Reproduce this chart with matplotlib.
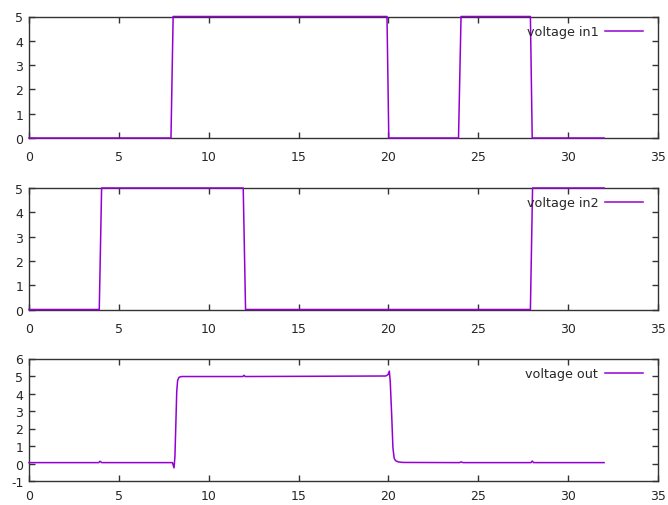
import matplotlib.pyplot as plt

plt.rcParams["axes.unicode_minus"] = False

# time points (s) and voltages
t_in1 = [0, 7.9, 8.02, 19.92, 20.02, 23.9, 24.04, 27.9, 28.0, 32]
v_in1 = [0, 0, 5, 5, 0, 0, 5, 5, 0, 0]

t_in2 = [0, 3.91, 4.04, 11.92, 12.05, 27.9, 28.02, 32]
v_in2 = [0, 0, 5, 5, 0, 0, 5, 5]

t_out = [0, 3.88, 3.95, 4.05, 7.98, 8.07, 8.12, 8.17, 8.22, 8.27, 8.35, 8.5,
         11.9, 11.96, 12.03, 19.85, 19.98, 20.05, 20.1, 20.18, 20.25, 20.32,
         20.4, 20.55, 20.8, 23.95, 24.05, 24.15, 27.93, 28.0, 28.08, 32]
v_out = [0.05, 0.05, 0.13, 0.05, 0.05, -0.25, 0.4, 2.2, 4.1, 4.75, 4.93, 4.97,
         4.97, 5.04, 4.97, 5.0, 5.08, 5.28, 4.7, 2.8, 0.9, 0.3,
         0.16, 0.09, 0.06, 0.05, 0.09, 0.05, 0.05, 0.14, 0.05, 0.05]

series = [
    (t_in1, v_in1, "voltage in1", (0, 5), [0, 1, 2, 3, 4, 5]),
    (t_in2, v_in2, "voltage in2", (0, 5), [0, 1, 2, 3, 4, 5]),
    (t_out, v_out, "voltage out", (-1, 6), [-1, 0, 1, 2, 3, 4, 5, 6]),
]
x_ticks = [0, 5, 10, 15, 20, 25, 30, 35]

line_color = "#9400d3"
text_color = "#262626"

W, H = 668, 506
fig = plt.figure(figsize=(W / 100, H / 100), dpi=100)

# axes boxes in pixels: (left, top, right, bottom), and x label pad
boxes = [(29, 17.5, 658, 139, 9), (29, 189, 658, 310.5, 9),
         (29, 359.5, 658, 482, 5.5)]

for (t, v, label, ylim, yticks), (l, tp, r, b, xpad) in zip(series, boxes):
    ax = fig.add_axes([l / W, 1 - b / H, (r - l) / W, (b - tp) / H])
    ax.plot(t, v, color=line_color, lw=1.1, label=label, clip_on=False, zorder=3)
    ax.set_xlim(0, 35)
    ax.set_ylim(*ylim)
    ax.set_xticks(x_ticks)
    ax.set_yticks(yticks)
    ax.tick_params(direction="in", top=True, right=True, length=4.5, width=1.0,
                   colors="#333333", labelcolor=text_color, labelsize=9)
    ax.tick_params(axis="x", pad=xpad)
    ax.tick_params(axis="y", pad=4)
    for s in ax.spines.values():
        s.set_color("#333333")
        s.set_linewidth(1.0)
    h_px = b - tp
    ax.legend(loc="upper right", bbox_to_anchor=(1 - 15 / (r - l), 1 - 8.5 / h_px),
              frameon=False, markerfirst=False, fontsize=9.2, handlelength=3.0,
              handletextpad=0.5, borderaxespad=0, borderpad=0,
              labelcolor=text_color)

fig.savefig("out.png", dpi=100)
